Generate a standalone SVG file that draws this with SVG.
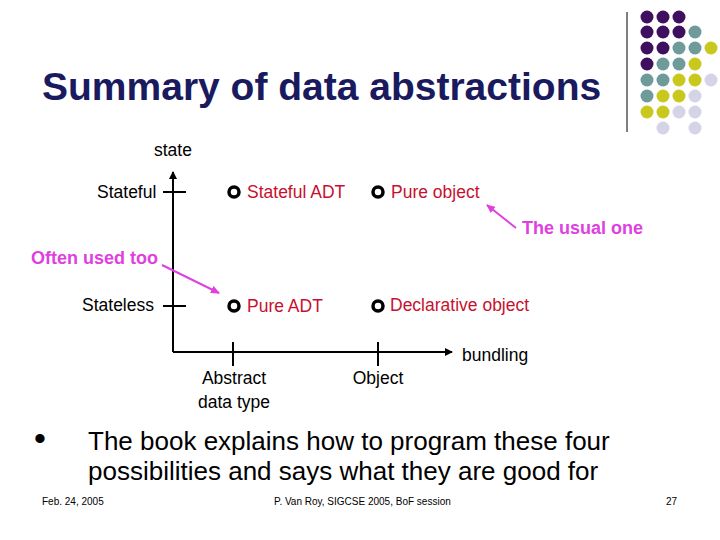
<svg xmlns="http://www.w3.org/2000/svg" width="720" height="540" viewBox="0 0 720 540">
<defs>
<marker id="ab" markerWidth="8" markerHeight="8" refX="7" refY="4" orient="auto" markerUnits="userSpaceOnUse"><path d="M0,0 L8,4 L0,8 z" fill="#000"/></marker>
<marker id="am" markerWidth="9" markerHeight="8" refX="8" refY="4" orient="auto" markerUnits="userSpaceOnUse"><path d="M0,0 L9,4 L0,8 z" fill="#e040e0"/></marker>
</defs>
<style>
text{font-family:"Liberation Sans",Arial,sans-serif}
.lab{font-size:17.5px;fill:#000}
.red{font-size:17.5px;fill:#c8102e}
.mag{font-size:18px;fill:#e040e0;font-weight:bold}
.ax{stroke:#000;stroke-width:2;fill:none}
.bul{fill:#fff;stroke:#000;stroke-width:3.5}
.p{fill:#3f1060}.t{fill:#6f9a9a}.y{fill:#c8c81e}.l{fill:#d4d4e6}
</style>
<rect width="720" height="540" fill="#fff"/>
<g id="decor">
<line x1="627" y1="12" x2="627" y2="132" stroke="#000" stroke-width="1"/>
<circle class="p" cx="647" cy="17" r="6.5"/><circle class="p" cx="663" cy="17" r="6.5"/><circle class="p" cx="679" cy="17" r="6.5"/>
<circle class="p" cx="647" cy="32" r="6.5"/><circle class="p" cx="663" cy="32" r="6.5"/><circle class="p" cx="679" cy="32" r="6.5"/><circle class="t" cx="695" cy="32" r="6.5"/>
<circle class="p" cx="647" cy="48" r="6.5"/><circle class="p" cx="663" cy="48" r="6.5"/><circle class="t" cx="679" cy="48" r="6.5"/><circle class="t" cx="695" cy="48" r="6.5"/><circle class="y" cx="711" cy="48" r="6.5"/>
<circle class="p" cx="647" cy="64" r="6.5"/><circle class="t" cx="663" cy="64" r="6.5"/><circle class="t" cx="679" cy="64" r="6.5"/><circle class="y" cx="695" cy="64" r="6.5"/>
<circle class="t" cx="647" cy="80" r="6.5"/><circle class="t" cx="663" cy="80" r="6.5"/><circle class="y" cx="679" cy="80" r="6.5"/><circle class="y" cx="695" cy="80" r="6.5"/><circle class="l" cx="711" cy="80" r="6.5"/>
<circle class="t" cx="647" cy="96" r="6.5"/><circle class="y" cx="663" cy="96" r="6.5"/><circle class="y" cx="679" cy="96" r="6.5"/><circle class="l" cx="695" cy="96" r="6.5"/>
<circle class="y" cx="647" cy="112" r="6.5"/><circle class="y" cx="663" cy="112" r="6.5"/><circle class="l" cx="679" cy="112" r="6.5"/><circle class="l" cx="695" cy="112" r="6.5"/>
<circle class="l" cx="663" cy="128" r="6.5"/><circle class="l" cx="695" cy="128" r="6.5"/>
</g>
<text x="42" y="100" font-size="39" font-weight="bold" fill="#1a1a5e">Summary of data abstractions</text>
<g id="axes">
<line class="ax" x1="173" y1="352" x2="173" y2="172" marker-end="url(#ab)"/>
<line class="ax" x1="173" y1="352" x2="452" y2="352" marker-end="url(#ab)"/>
<line class="ax" x1="163" y1="192" x2="186" y2="192"/>
<line class="ax" x1="163" y1="306" x2="186" y2="306"/>
<line class="ax" x1="233" y1="342" x2="233" y2="366"/>
<line class="ax" x1="378" y1="342" x2="378" y2="366"/>
</g>
<text class="lab" x="154" y="156">state</text>
<text class="lab" x="97" y="198">Stateful</text>
<text class="lab" x="82" y="311">Stateless</text>
<text class="lab" x="462" y="361">bundling</text>
<text class="lab" x="234" y="384" text-anchor="middle">Abstract</text>
<text class="lab" x="234" y="408" text-anchor="middle">data type</text>
<text class="lab" x="378" y="384" text-anchor="middle">Object</text>
<g id="n1"><circle class="bul" cx="234" cy="192" r="5"/><text class="red" x="247" y="198">Stateful ADT</text></g>
<g id="n2"><circle class="bul" cx="378" cy="192" r="5"/><text class="red" x="391" y="198">Pure object</text></g>
<g id="n3"><circle class="bul" cx="234" cy="306" r="5"/><text class="red" x="247" y="312">Pure ADT</text></g>
<g id="n4"><circle class="bul" cx="378" cy="306" r="5"/><text class="red" x="390" y="311">Declarative object</text></g>
<g id="connectors">
<line x1="516" y1="228" x2="487" y2="205" stroke="#e040e0" stroke-width="2" marker-end="url(#am)"/>
<line x1="162" y1="265" x2="219" y2="293" stroke="#e040e0" stroke-width="2" marker-end="url(#am)"/>
</g>
<text class="mag" x="522" y="234">The usual one</text>
<text class="mag" x="31" y="264">Often used too</text>
<text x="34" y="450" font-size="34">•</text>
<text x="88" y="450" font-size="26">The book explains how to program these four</text>
<text x="88" y="480" font-size="26">possibilities and says what they are good for</text>
<text x="42" y="505" font-size="10">Feb. 24, 2005</text>
<text x="274" y="505" font-size="10">P. Van Roy, SIGCSE 2005, BoF session</text>
<text x="666" y="505" font-size="10">27</text>
</svg>
